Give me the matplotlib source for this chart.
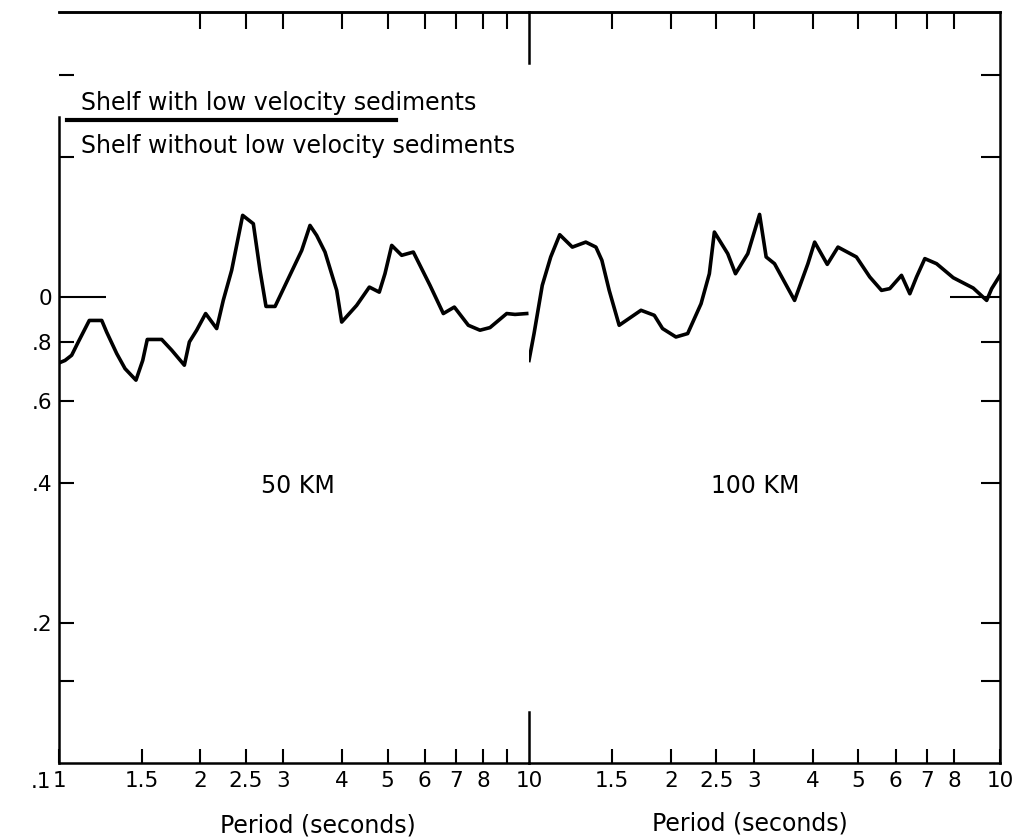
import matplotlib
matplotlib.use("Agg")
import matplotlib.pyplot as plt
from matplotlib.ticker import NullLocator

# spectral ratio, 50 km panel (period in seconds)
period_50 = [1.0, 1.030, 1.064, 1.099, 1.160, 1.233, 1.263, 1.327, 1.382, 1.458,
             1.507, 1.541, 1.654, 1.737, 1.848, 1.894, 1.963, 2.051, 2.165, 2.236,
             2.330, 2.459, 2.591, 2.677, 2.757, 2.882, 3.051, 3.284, 3.420, 3.534,
             3.681, 3.898, 3.995, 4.298, 4.574, 4.802, 4.938, 5.104, 5.359, 5.674,
             6.157, 6.572, 6.937, 7.429, 7.865, 8.260, 8.966, 9.338, 9.888]
ratio_50 = [0.723, 0.732, 0.751, 0.802, 0.892, 0.892, 0.842, 0.757, 0.703, 0.664,
            0.732, 0.812, 0.812, 0.770, 0.715, 0.802, 0.850, 0.923, 0.857, 0.985,
            1.143, 1.500, 1.439, 1.143, 0.956, 0.956, 1.079, 1.261, 1.427, 1.358,
            1.251, 1.035, 0.885, 0.961, 1.052, 1.026, 1.124, 1.293, 1.231, 1.251,
            1.061, 0.923, 0.953, 0.871, 0.850, 0.861, 0.923, 0.919, 0.923]

# spectral ratio, 100 km panel
period_100 = [1.0, 1.025, 1.067, 1.112, 1.162, 1.236, 1.320, 1.387, 1.428, 1.480,
              1.554, 1.729, 1.845, 1.921, 2.051, 2.172, 2.319, 2.415, 2.475, 2.642,
              2.744, 2.914, 3.087, 3.188, 3.321, 3.663, 3.910, 4.041, 4.298, 4.529,
              4.956, 5.290, 5.603, 5.834, 6.178, 6.435, 6.650, 6.925, 7.334, 7.956,
              8.773, 9.369, 9.601, 10.0]
ratio_100 = [0.732, 0.836, 1.061, 1.221, 1.363, 1.282, 1.314, 1.282, 1.201, 1.035,
             0.871, 0.938, 0.915, 0.857, 0.822, 0.836, 0.969, 1.124, 1.381, 1.241,
             1.124, 1.241, 1.507, 1.221, 1.181, 0.985, 1.181, 1.314, 1.177, 1.282,
             1.221, 1.106, 1.035, 1.044, 1.115, 1.018, 1.106, 1.211, 1.181, 1.102,
             1.047, 0.985, 1.044, 1.115]

# tick positions / labels
x_ticks_left = [1, 1.5, 2, 2.5, 3, 4, 5, 6, 7, 8, 9]
x_labels_left = ["1", "1.5", "2", "2.5", "3", "4", "5", "6", "7", "8", ""]
top_ticks_left = [2, 2.5, 3, 4, 5, 6, 7, 8, 9]
x_ticks_right = [1.5, 2, 2.5, 3, 4, 5, 6, 7, 8, 10]
x_labels_right = ["1.5", "2", "2.5", "3", "4", "5", "6", "7", "8", "10"]
top_ticks_right = [1.5, 2, 2.5, 3, 4, 5, 6, 7, 8]
y_ticks = [0.15, 0.2, 0.4, 0.6, 0.8, 2, 3]
y_labels = ["", ".2", ".4", ".6", ".8", "", ""]

fig = plt.figure(figsize=(10.27, 8.4), dpi=100)
ax1 = fig.add_axes([0.05745, 0.09167, 0.45764, 0.89405])
ax2 = fig.add_axes([0.51509, 0.09167, 0.45862, 0.89405])
ax2.patch.set_visible(False)  # don't hide the divider marks of ax1

for ax in (ax1, ax2):
    ax.set_xscale("log")
    ax.set_yscale("log")
    ax.set_xlim(1, 10)
    ax.set_ylim(0.1, 4.1)
    ax.xaxis.set_minor_locator(NullLocator())
    ax.yaxis.set_minor_locator(NullLocator())
    for s in ax.spines.values():
        s.set_linewidth(1.8)

ax1.plot(period_50, ratio_50, color="black", lw=2.6, solid_joinstyle="round")
ax2.plot(period_100, ratio_100, color="black", lw=2.6, solid_joinstyle="round")

ax1.spines["right"].set_visible(False)
ax1.spines["left"].set_bounds(0.1, 2.44)
ax2.spines["left"].set_visible(False)

# left panel x ticks; the "10" label sits on the panel divider
ax1.set_xticks(x_ticks_left, x_labels_left)
ax1.set_xticks([10], ["10"], minor=True)
ax1.tick_params(axis="x", which="major", direction="in", length=10, width=1.5,
                top=False, labelsize=15.5, pad=6)
ax1.tick_params(axis="x", which="minor", direction="in", length=0,
                top=False, labelsize=15.5, pad=6)
# divider marks between the two panels
div = 51 / 751
ax1.axvline(10, ymin=0, ymax=div, color="black", lw=1.8, clip_on=False)
ax1.axvline(10, ymin=1 - div, ymax=1, color="black", lw=1.8, clip_on=False)

ax1.set_yticks(y_ticks, y_labels)
ax1.set_yticks([1], ["0"], minor=True)
ax1.tick_params(axis="y", which="major", direction="in", length=11, width=1.5,
                right=False, labelsize=15.5, pad=5)
ax1.tick_params(axis="y", which="minor", direction="in", length=34, width=1.5,
                right=False, labelsize=15.5, pad=5)
ax1.annotate(".1", xy=(0, 0.1), xycoords=("axes fraction", "data"),
             xytext=(-8, -19), textcoords="offset pixels",
             ha="right", va="center", fontsize=15.5)

sec1 = ax1.secondary_xaxis("top")
sec1.set_xticks(top_ticks_left)
sec1.xaxis.set_minor_locator(NullLocator())
sec1.tick_params(axis="x", direction="in", length=12, width=1.5, labeltop=False)
sec1.spines["top"].set_linewidth(1.8)

# right panel
ax2.set_xticks(x_ticks_right, x_labels_right)
ax2.tick_params(axis="x", which="major", direction="in", length=10, width=1.5,
                top=False, labelsize=15.5, pad=6)
ax2.set_yticks(y_ticks, [""] * len(y_ticks))
ax2.set_yticks([1], [""], minor=True)
ax2.tick_params(axis="y", which="both", direction="in", left=False, right=True,
                labelleft=False, labelright=False)
ax2.tick_params(axis="y", which="major", length=14, width=1.5)
ax2.tick_params(axis="y", which="minor", length=36, width=1.5)

sec2 = ax2.secondary_xaxis("top")
sec2.set_xticks(top_ticks_right)
sec2.xaxis.set_minor_locator(NullLocator())
sec2.tick_params(axis="x", direction="in", length=12, width=1.5, labeltop=False)
sec2.spines["top"].set_linewidth(1.8)

# legend as a fraction
ax1.text(0.0468, 0.8695, "Shelf with low velocity sediments", transform=ax1.transAxes,
         fontsize=17, va="baseline")
ax1.axhline(2.4, xmin=0.017, xmax=0.717, color="black", lw=3)
ax1.text(0.0468, 0.8123, "Shelf without low velocity sediments", transform=ax1.transAxes,
         fontsize=17, va="baseline")

ax1.text(0.5085, 0.3688, "50 KM", transform=ax1.transAxes, fontsize=17,
         ha="center", va="center")
ax2.text(0.4798, 0.3688, "100 KM", transform=ax2.transAxes, fontsize=17,
         ha="center", va="center")

ax1.set_xlabel("Period (seconds)", fontsize=17)
ax1.xaxis.set_label_coords(0.551, -0.067)
ax2.set_xlabel("Period (seconds)", fontsize=17)
ax2.xaxis.set_label_coords(0.469, -0.064)

fig.savefig("out.png", dpi=100)
